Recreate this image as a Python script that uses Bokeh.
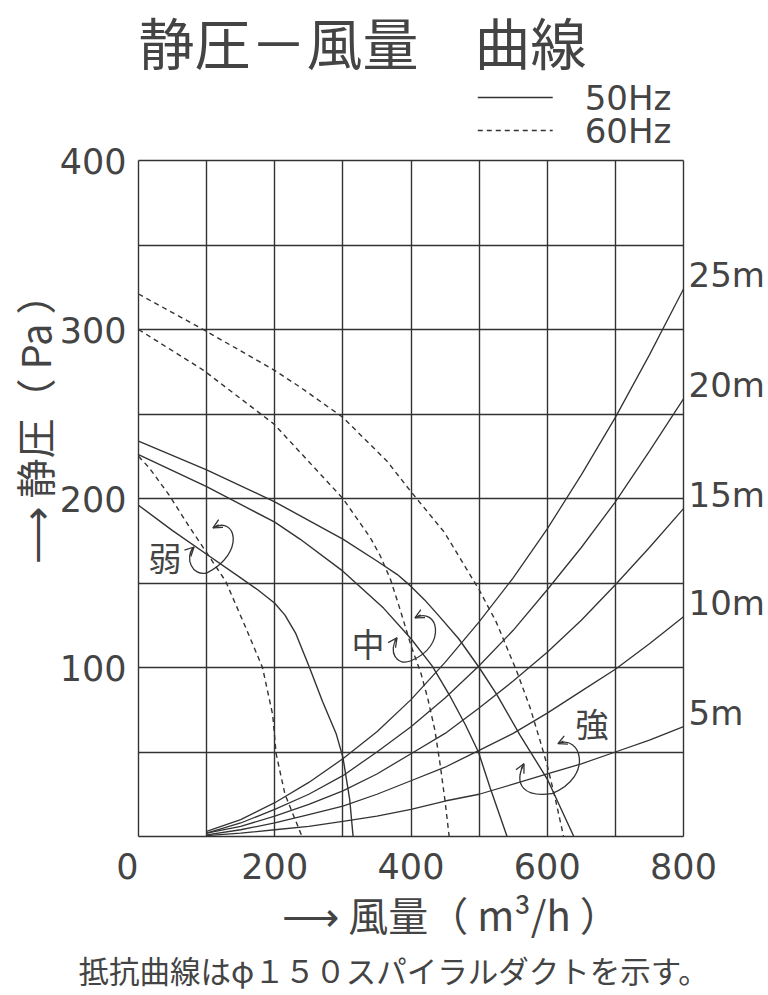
from bokeh.plotting import figure
from bokeh.models import (Label, Arrow, OpenHead, SingleIntervalTicker, FixedTicker,
                          LinearAxis, Title)
from bokeh.core.properties import value
from bokeh.embed import file_html
from bokeh.resources import INLINE

# ---------------- data ----------------
# fan curves: air volume Q (m3/h) and static pressure P (Pa)
weak50_q = [0, 50, 100, 150, 175, 200, 215, 231, 251, 270, 290, 300, 310, 315]
weak50_p = [196, 181, 167, 153, 146, 138, 131, 120, 100, 80, 61, 47, 22, 0]
weak60_q = [0, 16, 45, 75, 100, 128, 157, 182, 197, 202, 215, 234, 240]
weak60_p = [225, 218, 202, 183, 168, 151, 124, 100, 72, 49, 25, 6, 0]

mid50_q = [0, 100, 200, 237, 300, 360, 400, 431, 456, 480, 499, 516, 541]
mid50_p = [226, 207, 186, 176, 157, 135, 117, 101, 84, 66, 50, 29, 0]
mid60_q = [0, 95, 199, 300, 340, 355, 370, 385, 400, 415, 425, 435, 443, 450, 456]
mid60_p = [300, 276, 244, 200, 177, 166, 152, 133, 113, 96, 81, 63, 42, 21, 0]

strong50_q = [0, 100, 200, 300, 350, 380, 400, 420, 440, 470, 500, 526, 560, 600, 639]
strong50_p = [234, 217, 198, 176, 163, 155, 148, 140, 131, 117, 100, 84, 60, 34, 0]
strong60_q = [0, 95, 199, 237, 300, 365, 400, 449, 476, 500, 525, 555, 575, 590, 600, 612, 624]
strong60_p = [321, 300, 276, 266, 248, 222, 204, 180, 162, 146, 127, 98, 76, 56, 42, 22, 0]

# duct resistance curves (phi150 spiral duct)
res_q = [100, 150, 200, 250, 300, 350, 400, 450, 500, 550, 600, 650, 700, 750, 800]
res_25m = [3, 10, 20, 32, 46, 62, 81, 103, 127, 153, 182, 214, 248, 285, 324]
res_20m = [2, 8, 16, 25, 36, 50, 65, 82, 101, 122, 146, 171, 198, 228, 259]
res_15m = [2, 6, 12, 19, 27, 37, 49, 61, 76, 92, 109, 128, 149, 171, 194]
res_10m = [1, 4, 8, 13, 18, 25, 33, 41, 51, 61, 73, 86, 99, 114, 130]
res_5m = [0.5, 2, 4, 6, 9, 12, 16, 21, 25, 31, 37, 43, 50, 57, 65]
res_labels = ["25m", "20m", "15m", "10m", "5m"]

x_ticks = [0, 200, 400, 600, 800]
y_ticks = [100, 200, 300, 400]

title_text = "静圧－風量　曲線"
x_title = "⟶ 風量（ m³/h ）"
y_title = "⟶ 静圧（ Pa ）"
note_text = "抵抗曲線はφ１５０スパイラルダクトを示す。"
legend_labels = ["50Hz", "60Hz"]

INK = "#333333"
TXT = "#444444"
CJK = "Noto Sans CJK JP"
NUM = "DejaVu Sans"

# ---------------- layout geometry ----------------
PLOT_W, PLOT_H = 545, 676          # chart area in px
LEFT, TOP = 138, 160               # chart area position on the page
PAD = 2                            # keeps edge grid lines fully inside the frame
PXQ = PLOT_W / 800.0
PXP = PLOT_H / 400.0
x_range = (-PAD / PXQ, 800 + PAD / PXQ)
y_range = (-PAD / PXP, 400 + TOP / PXP)

p = figure(x_range=x_range, y_range=y_range, title=None,
           frame_width=PLOT_W + 2 * PAD, frame_height=PLOT_H + TOP + PAD,
           min_border_left=LEFT - PAD, min_border_right=76,
           min_border_top=0, min_border_bottom=148,
           output_backend="svg", toolbar_location=None,
           background_fill_color="white", border_fill_color="white")
p.outline_line_color = None

# right axis carrying the duct-length labels
res_sets = [res_25m, res_20m, res_15m, res_10m, res_5m]
res_label_y = [int(v[-1]) + 8 for v in res_sets]
raxis = LinearAxis(ticker=FixedTicker(ticks=res_label_y),
                   major_label_overrides={y: t for y, t in zip(res_label_y, res_labels)})
p.add_layout(raxis, "right")

p.xaxis.ticker = FixedTicker(ticks=x_ticks)
p.xaxis.bounds = (0, 800)
p.xaxis.major_label_overrides = {0: "0\u00a0\u00a0"}
p.yaxis[0].ticker = FixedTicker(ticks=y_ticks)
p.yaxis[0].bounds = (70, 400)      # centres the axis title where the original has it
for ax in p.xaxis + p.yaxis:
    ax.axis_line_color = None
    ax.major_tick_line_color = None
    ax.minor_tick_line_color = None
    ax.major_tick_out = 0
    ax.major_tick_in = 0
    ax.minor_tick_out = 0
    ax.minor_tick_in = 0
    ax.major_label_text_font = NUM
    ax.major_label_text_font_size = "35px"
    ax.major_label_text_color = TXT
raxis.major_label_text_font_size = "34px"
raxis.major_label_standoff = 3
p.xaxis.major_label_standoff = 8
p.yaxis[0].major_label_standoff = 10

p.xaxis.axis_label = "\u3000\u3000" + x_title
p.xaxis.axis_label_text_font = CJK
p.xaxis.axis_label_text_font_size = "40px"
p.xaxis.axis_label_text_font_style = "normal"
p.xaxis.axis_label_text_color = TXT
p.xaxis.axis_label_standoff = -5

p.yaxis[0].axis_label = y_title
p.yaxis[0].axis_label_text_font = CJK
p.yaxis[0].axis_label_text_font_size = "40px"
p.yaxis[0].axis_label_text_font_style = "normal"
p.yaxis[0].axis_label_text_color = TXT
p.yaxis[0].axis_label_standoff = -6

# grid limited to the chart area (its outer lines form the border)
p.xgrid.ticker = SingleIntervalTicker(interval=100)
p.xgrid.cross_bounds = (0, 400)
p.ygrid.ticker = SingleIntervalTicker(interval=50)
p.ygrid.bounds = (0, 400)
p.ygrid.cross_bounds = (0, 800)
p.grid.grid_line_color = INK
p.grid.grid_line_width = 1.4
p.grid.grid_line_alpha = 1.0

# fan curves
for q, v in [(weak50_q, weak50_p), (mid50_q, mid50_p), (strong50_q, strong50_p)]:
    p.line(q, v, line_color=INK, line_width=1.4)
for q, v in [(weak60_q, weak60_p), (mid60_q, mid60_p), (strong60_q, strong60_p)]:
    p.line(q, v, line_color=INK, line_width=1.4, line_dash="5 4")

# resistance curves
for vals in res_sets:
    p.line(res_q, vals, line_color=INK, line_width=1.3)


# curved double arrows (annotations)
def loop(t1, c1, c2, m, c3, c4, t2):
    p.bezier(x0=[t1[0], m[0]], y0=[t1[1], m[1]], x1=[m[0], t2[0]], y1=[m[1], t2[1]],
             cx0=[c1[0], c3[0]], cy0=[c1[1], c3[1]], cx1=[c2[0], c4[0]], cy1=[c2[1], c4[1]],
             line_color=INK, line_width=1.3)
    for tip, c in [(t1, c1), (t2, c4)]:
        sx = tip[0] + 0.25 * (c[0] - tip[0])
        sy = tip[1] + 0.25 * (c[1] - tip[1])
        p.add_layout(Arrow(end=OpenHead(size=9, line_color=INK, line_width=1.3),
                           x_start=sx, y_start=sy, x_end=tip[0], y_end=tip[1],
                           line_color=INK, line_width=1.3))


loop((109.3, 182.6), (143.1, 190.2), (157.8, 167.8), (100.5, 156.0),
     (78.5, 153.6), (66.8, 165.4), (81.5, 171.3))
loop((405.8, 129.4), (439.6, 136.5), (454.3, 112.9), (400.0, 104.0),
     (378.0, 100.4), (366.2, 109.9), (379.4, 117.6))
loop((615.7, 54.9), (648.0, 60.9), (670.0, 36.0), (606.9, 25.4),
     (567.3, 23.0), (549.7, 30.1), (565.8, 43.1))

for txt, x, y in [("弱", 38.9, 165.4), ("中", 336.9, 114.6), ("強", 665.6, 67.4)]:
    p.add_layout(Label(x=x, y=y, text=txt, text_align="center", text_baseline="middle",
                       text_font=CJK, text_font_size="33px", text_color=TXT))


# header inside the frame, above the chart area: title and legend
def page_y(py):
    return 400 + (TOP - py) / PXP


p.text(x=[0], y=[page_y(40)], text=[title_text], text_font=value(CJK),
       text_font_size="56px", text_color=TXT, text_align="left",
       text_baseline="middle")
leg_y = [page_y(97), page_y(130)]
p.line(x=[498, 608], y=[leg_y[0], leg_y[0]], line_color=INK, line_width=1.4)
p.line(x=[498, 608], y=[leg_y[1], leg_y[1]], line_color=INK, line_width=1.4,
       line_dash="5 4")
p.text(x=[655, 655], y=leg_y, text=legend_labels, text_font=value(NUM),
       text_font_size="34px", text_color=TXT, text_align="left",
       text_baseline="middle")

# footnote below the x-axis title
p.add_layout(Title(text=note_text, align="left", offset=-58, text_font=CJK,
                   text_font_size="30.5px", text_font_style="normal",
                   text_color=TXT, standoff=0), "below")

open("out.html", "w").write(file_html(p, INLINE))
